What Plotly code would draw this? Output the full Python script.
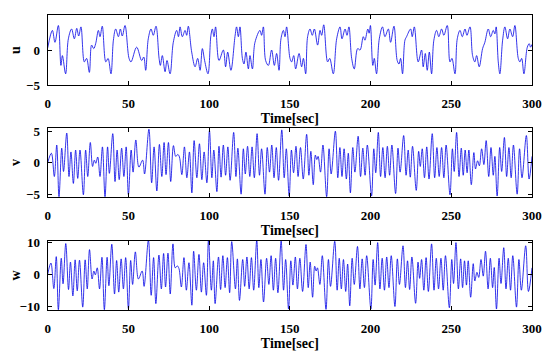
import plotly.graph_objects as go

# ---------------- data (extrema) ----------------
t_u = [0, 2.9, 4.5, 6.6, 8.2, 9.1, 11.1, 12.8, 14.8, 16.5, 18.0, 19.2, 20.6, 22.7, 24.1, 25.8,
       27.2, 28.5, 29.7, 31.4, 32.4, 33.8, 36.0, 37.4, 39.2, 40.7, 42.1, 43.8, 45.0, 46.2, 47.9,
       50.4, 51.6, 55.1, 58.2, 59.5, 60.7, 62.3, 64.0, 65.4, 67.1, 69.0, 69.8, 71.0, 72.7, 73.9,
       75.8, 77.8, 79.9, 81.0, 82.0, 83.4, 85.1, 86.1, 87.1, 89.2, 91.3, 92.9, 94.4, 95.8, 97.2,
       99.3, 101.1, 102.0, 103.0, 104.0, 106.1, 108.8, 110.2, 111.5, 113.5, 116.0, 117.0, 118.1,
       119.1, 120.6, 121.6, 122.8, 124.3, 125.3, 126.8, 128.4, 131.5, 132.5, 133.6, 135.0, 136.7,
       138.7, 140.4, 141.8, 143.3, 144.5, 146.0, 147.0, 148.0, 150.1, 151.1, 152.4, 153.6, 155.7,
       157.3, 158.4, 159.8, 161.0, 162.5, 163.9, 165.2, 167.2, 168.7, 169.7, 171.0, 173.4, 174.7,
       176.9, 179.0, 181.1, 182.3, 184.2, 185.4, 186.6, 188.3, 189.9, 192.0, 193.5, 195.5, 196.5,
       198.3, 199.1, 199.9, 201.4, 202.3, 203.7, 205.4, 207.4, 208.9, 211.0, 212.4, 214.5, 216.5,
       217.6, 218.6, 219.8, 221.3, 222.3, 224.8, 225.8, 227.1, 229.5, 231.6, 232.6, 233.9, 235.1,
       236.4, 237.8, 239.2, 240.9, 242.3, 244.0, 245.4, 247.5, 249.2, 250.4, 252.3, 253.7, 255.4,
       256.8, 258.5, 259.7, 261.6, 263.2, 264.6, 265.7, 267.3, 269.4, 270.8, 272.9, 274.4, 276.0,
       277.0, 277.8, 279.1, 280.1, 281.8, 283.2, 284.9, 286.3, 288.0, 289.4, 291.5, 292.5, 293.6,
       295.0, 297.1, 298.3, 299.1, 300]
u_vals = [0.3, 2.8, 1.1, 3.5, -2.2, -0.8, -3.4, 1.6, 3.0, 1.6, 3.1, 2.0, 3.3, -1.7, -1.2, -3.2,
          0.7, 0.2, 0.9, 2.8, 1.9, 3.4, -1.7, -1.2, -3.4, 1.4, 3.0, 1.9, 3.0, 2.0, 3.5,
          -1.2, -1.7, 0.4, -1.5, -1.0, -2.9, 1.6, 3.0, 2.1, 3.4, -1.2, -2.2, -0.8, -3.1, -1.5,
          -3.4, 1.1, 2.8, 1.9, 3.3, 1.9, 2.8, 2.1, 3.4, -0.3, -2.4, -1.2, -2.9, 0.2, -1.5,
          -3.4, 2.1, 3.0, 1.9, 3.3, -1.5, 0.0, -2.4, -0.3, -2.9, 1.9, 3.3, 1.9,
          3.3, -1.2, -2.0, -0.3, -2.7, -0.8, -2.7, 1.1, 2.8, 2.1, 3.3, -1.5, -2.2,
          0.0, -2.2, -0.5, -2.9, 1.6, 2.8, 1.9, 3.3, -1.2, -1.7, -0.8, -2.7, -0.5,
          -2.4, -1.2, -3.4, 1.9, 3.0, 2.1, 3.0, 0.7, 2.8, 2.1, 3.6, -1.7, -1.2,
          -3.4, 1.6, 3.3, 1.6, 3.0, 2.1, 3.3, -1.2, -2.7, 0.2, 0.0, 1.9, 1.4,
          3.0, 2.4, 3.5, -2.2, -1.2, -3.4, 1.6, 3.3, 1.9, 3.0, 1.1, 3.4, -1.5,
          -2.0, -1.2, -3.4, 1.4, 1.9, 3.0, 1.9, 3.3, -1.7, 0.0, -2.4, -0.5, -2.9,
          -0.3, -3.4, 1.4, 2.8, 1.9, 3.0, 2.1, 3.5, -1.7, -1.2, -3.4, 1.6, 2.8,
          1.9, 3.0, 2.1, 3.3, -0.8, -1.7, -0.8, -2.4, 0.2, 1.1, 3.0, 1.9, 2.8,
          2.3, 3.3, -1.7, -3.4, 1.4, 3.3, 1.6, 3.0, 1.9, 3.5, -1.2, -1.7, -1.2,
          -3.4, 0.4, 0.9, 0.4, 0.8]

t_v = [0, 2.3, 4.1, 5.6, 7.0, 8.7, 9.8, 11.8, 13.2, 14.4, 15.9, 17.3, 18.6, 20.0, 22.1, 23.5,
       24.8, 26.4, 27.8, 28.9, 29.8, 31.0, 32.4, 33.9, 35.5, 37.1, 38.2, 40.3, 41.7, 43.0, 44.3,
       45.8, 47.2, 48.6, 50.0, 51.7, 52.9, 54.6, 56.5, 58.8, 60.0, 62.7, 64.4, 65.9, 67.6, 69.2,
       70.7, 72.1, 73.3, 74.8, 76.2, 77.9, 79.3, 80.6, 81.6, 83.1, 84.7, 86.2, 87.8, 89.3, 90.7,
       92.4, 94.0, 95.5, 96.9, 98.6, 100.2, 101.7, 102.9, 104.8, 106.1, 107.4, 108.8, 110.2,
       111.6, 113.0, 115.2, 116.6, 117.8, 119.8, 121.2, 122.4, 123.8, 125.2, 126.6, 128.0, 129.7,
       131.2, 132.5, 134.6, 136.0, 137.4, 138.8, 140.2, 141.6, 143.0, 145.0, 146.5, 147.8, 149.6,
       151.0, 152.3, 153.8, 155.1, 156.6, 158.3, 160.4, 161.8, 163.0, 164.5, 165.8, 166.7, 167.5,
       169.0, 170.5, 172.8, 174.3, 175.6, 178.2, 179.7, 181.0, 182.3, 183.6, 185.0, 186.2, 187.5,
       189.0, 190.3, 192.3, 193.8, 195.2, 196.6, 198.0, 200.6, 202.0, 203.2, 204.8, 206.2, 207.6,
       209.0, 210.4, 211.8, 213.2, 215.5, 217.0, 218.3, 220.5, 222.0, 223.3, 224.6, 226.0, 228.3,
       229.8, 230.8, 232.0, 233.4, 234.8, 236.2, 238.2, 239.7, 241.1, 242.5, 244.0, 245.4, 246.8,
       249.2, 250.7, 251.8, 253.3, 254.8, 256.2, 257.4, 258.6, 259.8, 260.9, 262.4, 264.0, 265.0,
       266.3, 267.4, 268.8, 270.2, 271.6, 273.2, 274.6, 276.0, 277.0, 278.4, 280.0, 281.2, 282.9,
       284.3, 285.7, 287.1, 288.5, 290.8, 292.3, 293.8, 296.5, 298.2, 300]
v_vals = [0.0, 1.5, -2.2, 2.8, -5.4, 2.3, -1.4, 4.7, -2.2, 1.7, -3.3, 2.0, -2.5, 2.0, -5.1, 2.0,
          -2.2, 3.2, -0.6, 0.4, -0.1, 0.9, -2.2, 2.5, -5.4, 2.5, -1.7, 4.6, -3.0, 2.0, -2.7,
          2.3, -2.2, 2.5, -5.1, 2.0, -1.5, 3.6, -0.7, 0.4, -1.8, 5.3, -3.2, 2.5, -4.5, 2.9,
          -2.2, 3.2, -1.9, 3.2, -3.0, 2.7, 1.0, 1.3, 0.9, -1.9, 2.5, -2.4, 1.7, -4.8, 3.5,
          -2.4, 3.0, -2.7, 1.7, -3.2, 5.1, -2.4, 2.0, -4.6, 2.6, -2.3, 2.8, -2.0,
          2.5, -2.8, 4.8, -2.2, 2.3, -5.0, 2.2, -1.8, 2.6, -2.2, 2.5, -2.4, 4.6,
          -2.0, 2.2, -5.0, 2.4, -1.5, 2.8, -2.4, 2.4, -2.8, 5.2, -2.4, 2.2, -5.3,
          2.0, -1.6, 2.6, -2.2, 2.4, -2.6, 4.5, -2.0, 1.8, -3.5, 1.2, 0.5, 1.0,
          -1.5, 2.8, -5.4, 2.2, -1.8, 5.0, -2.4, 2.4, -2.2, 2.2, -2.6, 1.5, -4.8,
          2.4, -1.5, 4.2, -2.2, 2.3, -2.0, 2.8, -5.3, 2.2, -1.6, 4.8, -2.2, 2.4,
          -2.4, 2.6, -2.0, 2.8, -4.9, 2.3, -1.5, 4.3, -2.0, 2.0, -2.3, 2.6, -4.4,
          1.8, -0.6, 2.2, -2.4, 2.5, -2.6, 4.6, -2.4, 2.4, -2.2, 2.4, -2.4, 2.8,
          -5.1, 2.2, -1.4, 4.8, -2.2, 2.3, -2.0, 2.0, -1.6, 2.0, -3.5, 1.6, -1.0,
          0.3, -0.5, 2.2, -0.3, 3.5, -2.2, 2.4, -2.0, 1.0, -5.3, 2.4, -1.4, 4.0,
          -2.2, 2.4, -2.4, 2.8, -5.0, 2.2, -2.4, 4.3, -2.6, 1.0]

t_w = [0, 2.0, 3.8, 5.3, 6.6, 8.4, 9.5, 11.2, 12.9, 14.1, 15.6, 17.0, 18.3, 19.7, 21.7, 23.2,
       24.5, 25.9, 27.5, 28.6, 29.5, 30.7, 32.1, 33.6, 35.1, 36.8, 37.9, 39.7, 41.4, 42.7, 44.0,
       45.5, 46.9, 48.3, 50.0, 51.4, 52.6, 54.3, 56.2, 58.5, 59.7, 62.4, 64.1, 65.6, 67.0, 68.9,
       70.4, 71.8, 73.0, 74.5, 75.9, 77.6, 79.0, 80.3, 81.3, 82.8, 84.4, 85.9, 87.5, 89.3, 90.4,
       92.1, 93.7, 95.2, 96.6, 98.3, 99.6, 101.4, 102.6, 103.7, 105.8, 107.1, 108.5, 109.9,
       111.3, 112.7, 114.0, 116.3, 117.5, 118.8, 120.8, 122.0, 123.4, 124.8, 126.2, 127.6, 129.5,
       130.8, 132.1, 133.7, 135.6, 137.0, 138.4, 139.8, 141.2, 142.6, 144.6, 146.1, 147.4, 149.2,
       150.6, 151.9, 153.4, 154.7, 156.2, 157.9, 160.0, 161.4, 162.6, 164.1, 165.4, 166.3, 167.1,
       168.6, 170.1, 172.4, 173.9, 175.2, 177.8, 179.3, 180.6, 181.9, 183.2, 184.6, 185.8, 187.1,
       188.6, 189.9, 191.9, 193.4, 194.8, 196.2, 197.6, 200.2, 201.6, 202.8, 204.4, 205.8, 207.2,
       208.6, 210.0, 211.4, 212.8, 215.1, 216.6, 217.9, 220.1, 221.6, 222.9, 224.2, 225.6, 227.9,
       229.4, 230.4, 231.6, 233.0, 234.4, 235.8, 237.8, 239.3, 240.7, 242.1, 243.6, 245.0, 246.4,
       248.8, 250.3, 251.4, 252.9, 254.4, 255.8, 257.0, 258.2, 259.4, 260.5, 262.0, 263.6, 264.6,
       265.9, 267.0, 268.4, 269.8, 271.2, 272.8, 274.2, 275.6, 276.6, 278.0, 279.6, 280.8, 282.5,
       283.9, 285.3, 286.7, 288.1, 290.4, 291.9, 293.4, 296.1, 297.8, 300]
w_vals = [0.0, 3.5, -4.5, 5.5, -11.1, 5.0, -3.0, 9.6, -4.8, 3.8, -6.8, 4.5, -5.2, 4.4, -10.3, 4.5,
          -4.6, 7.7, -1.5, 1.0, -0.2, 2.0, -4.6, 5.3, -11.1, 5.3, -3.6, 9.4, -6.2, 4.3, -5.6,
          4.8, -4.6, 5.2, -10.8, 4.3, -3.2, 7.0, -1.5, 1.0, -3.8, 10.7, -6.6, 5.2, -9.2, 6.0,
          -4.6, 6.5, -4.0, 6.6, -6.2, 9.5, 2.0, 2.6, 1.8, -4.0, 5.2, -5.0, 3.6, -9.7, 7.2,
          -5.0, 6.2, -5.6, 3.6, -6.6, 10.7, -5.0, 4.2, -9.2, 5.4, -4.8, 5.8, -4.2,
          5.2, -5.8, 10.2, -4.6, 4.8, -8.2, 4.6, -3.8, 5.4, -4.6, 5.2, -5.0, 10.7,
          -4.2, 4.6, -8.7, 5.0, -3.2, 5.8, -5.0, 5.0, -5.8, 10.4, -5.0, 4.6, -10.9,
          4.2, -3.4, 5.4, -4.6, 5.0, -5.4, 9.3, -4.2, 3.8, -7.2, 2.5, 1.0, 2.0,
          -3.2, 5.8, -11.0, 4.6, -3.8, 10.3, -5.0, 5.0, -4.6, 4.6, -5.4, 3.2, -9.9,
          5.0, -3.2, 8.7, -4.6, 4.8, -4.2, 5.8, -10.9, 4.6, -3.4, 9.9, -4.6, 5.0,
          -5.0, 5.4, -4.2, 5.8, -10.1, 4.8, -3.2, 8.9, -4.2, 4.2, -4.8, 5.4, -9.1,
          3.8, -1.3, 4.6, -5.0, 5.2, -5.4, 9.5, -5.0, 5.0, -4.6, 5.0, -5.0, 5.8,
          -10.5, 4.6, -2.9, 9.9, -4.6, 4.8, -4.2, 4.2, -3.4, 4.2, -7.2, 3.3, -2.1,
          0.6, -1.0, 4.6, -0.6, 7.2, -4.6, 5.0, -4.2, 2.1, -10.9, 5.0, -2.9, 8.3,
          -4.6, 5.0, -5.0, 5.8, -10.3, 4.6, -5.0, 8.9, -5.4, 2.0]

x_ticks = [0, 50, 100, 150, 200, 250, 300]
u_ticks = [-5, 0, 5]
v_ticks = [-5, 0, 5]
w_ticks = [-10, 0, 10]
y_labels = ["u", "v", "w"]
x_label = "Time[sec]"

# ---------------- figure ----------------
# the page body adds an 8 px offset, so the figure is 8 px smaller and shifted
OFF = 8
W, H = 550 - OFF, 355 - OFF
FONT = "Liberation Serif"
LINE = "#0000e6"

fig = go.Figure()
series = [(t_u, u_vals), (t_v, v_vals), (t_w, w_vals)]
for i, (tt, vv) in enumerate(series):
    ax = "" if i == 0 else str(i + 1)
    fig.add_trace(go.Scatter(x=tt, y=vv, mode="lines",
                             line=dict(color=LINE, width=0.8, shape="spline", smoothing=1.0),
                             xaxis="x" + ax, yaxis="y" + ax, showlegend=False,
                             hoverinfo="skip"))

# panel boxes in screenshot pixels (top, bottom)
panels = [(15, 85), (128, 197), (241, 310)]
x_left, x_right = 47.7 - OFF, 532 - OFF
y_ranges = [[-5, 5], [-5.45, 5.5], [-11.2, 10.4]]
y_tickvals = [u_ticks, v_ticks, w_ticks]

tickfont = dict(family=FONT, size=13, color="black", weight="bold")
layout = dict(width=W, height=H, margin=dict(l=0, r=0, t=0, b=0),
              paper_bgcolor="white", plot_bgcolor="white", showlegend=False)

for i, (top, bot) in enumerate(panels):
    top -= OFF
    bot -= OFF
    ax = "" if i == 0 else str(i + 1)
    layout["xaxis" + ax] = dict(
        domain=[x_left / W, x_right / W], anchor="y" + ax, range=[0, 300],
        tickvals=x_ticks, ticks="inside", ticklen=4, tickwidth=1, tickcolor="black",
        showline=True, linecolor="black", linewidth=1.3, mirror="ticks",
        showgrid=False, zeroline=False, tickfont=tickfont, ticklabelstandoff=6,
        automargin=False,
        title=dict(text=x_label, font=dict(family=FONT, size=14, color="black", weight="bold"),
                   standoff=3))
    layout["yaxis" + ax] = dict(
        domain=[1 - bot / H, 1 - top / H], anchor="x" + ax, range=y_ranges[i],
        tickvals=y_tickvals[i], ticks="inside", ticklen=4, tickwidth=1, tickcolor="black",
        showline=True, linecolor="black", linewidth=1.3, mirror="ticks",
        showgrid=False, zeroline=False, tickfont=tickfont, ticklabelstandoff=4,
        automargin=False,
        title=dict(text=y_labels[i], font=dict(family=FONT, size=14, color="black", weight="bold"),
                   standoff=8))

fig.update_layout(**layout)
fig.write_html("out.html")
